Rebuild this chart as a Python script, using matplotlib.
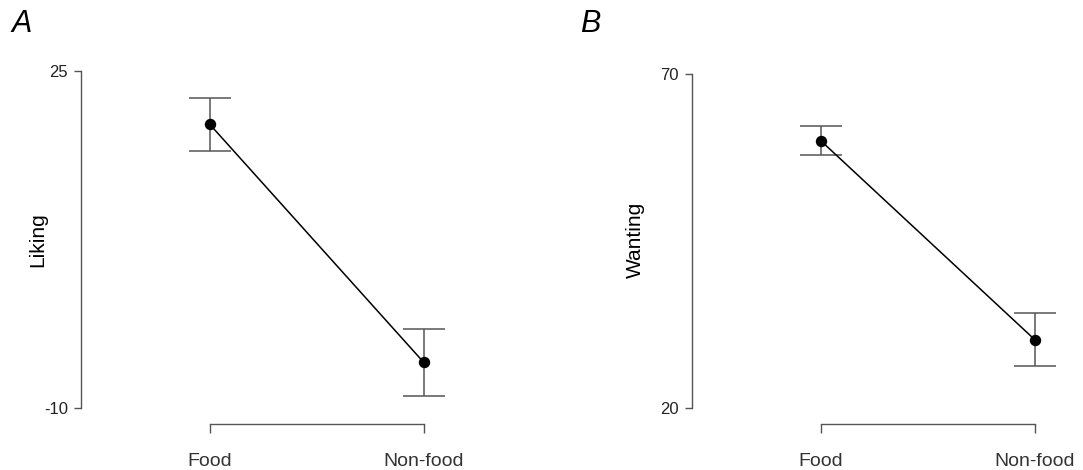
import matplotlib.pyplot as plt

plt.rcParams['font.family'] = ['Liberation Sans', 'DejaVu Sans']
plt.rcParams['axes.unicode_minus'] = False

categories = ['Food', 'Non-food']
liking_mean = [19.45, -5.25]
liking_err = [2.73, 3.5]
wanting_mean = [60.0, 30.25]
wanting_err = [2.2, 3.95]

panels = [
    ('A', 'Liking', liking_mean, liking_err, (-10, 25)),
    ('B', 'Wanting', wanting_mean, wanting_err, (20, 70)),
]

W, H = 1083, 470
PT = 0.72  # points per pixel at 100 dpi
fig = plt.figure(figsize=(W / 100, H / 100), dpi=100)

gray = '#555555'
x = [1, 2]
for i, (letter, ylabel, mean, err, ylim) in enumerate(panels):
    left_px = 81 + i * 611
    top_px = 71 if i == 0 else 74
    bottom_px = 408
    ax = fig.add_axes([left_px / W, 1 - bottom_px / H, 364 / W, (bottom_px - top_px) / H])
    ax.set_xlim(0.397, 2.1)
    ax.set_ylim(*ylim)

    ax.errorbar(x, mean, yerr=err, fmt='none', ecolor=gray, elinewidth=1.1,
                capsize=21 * PT, capthick=1.1, clip_on=False)
    ax.plot(x, mean, color='black', lw=1.1, clip_on=False)
    ax.plot(x, mean, 'o', color='black', ms=10 * PT, clip_on=False, zorder=5)

    for s in ['top', 'right']:
        ax.spines[s].set_visible(False)
    ax.spines['left'].set_bounds(*ylim)
    ax.spines['bottom'].set_bounds(1, 2)
    ax.spines['bottom'].set_position(('outward', 16 * PT))
    for s in ['left', 'bottom']:
        ax.spines[s].set_color(gray)
        ax.spines[s].set_linewidth(1.0)

    ax.set_yticks(list(ylim))
    ax.set_xticks(x)
    ax.set_xticklabels(categories)
    ax.tick_params(axis='y', length=7 * PT, width=1.0, color=gray, labelsize=12,
                   pad=6 * PT, labelcolor='#222222')
    ax.tick_params(axis='x', length=8.5 * PT, width=1.0, color=gray, labelsize=14,
                   pad=20 * PT, labelcolor='#333333')

    fig.text((38 + i * 597) / W, 1 - 240 / H, ylabel, fontsize=15, rotation=90,
             ha='center', va='center')
    fig.text((12 + i * 568) / W, 1 - 24 / H, letter, fontsize=22, style='italic',
             va='center', ha='left')

fig.savefig('out.png', dpi=100)
